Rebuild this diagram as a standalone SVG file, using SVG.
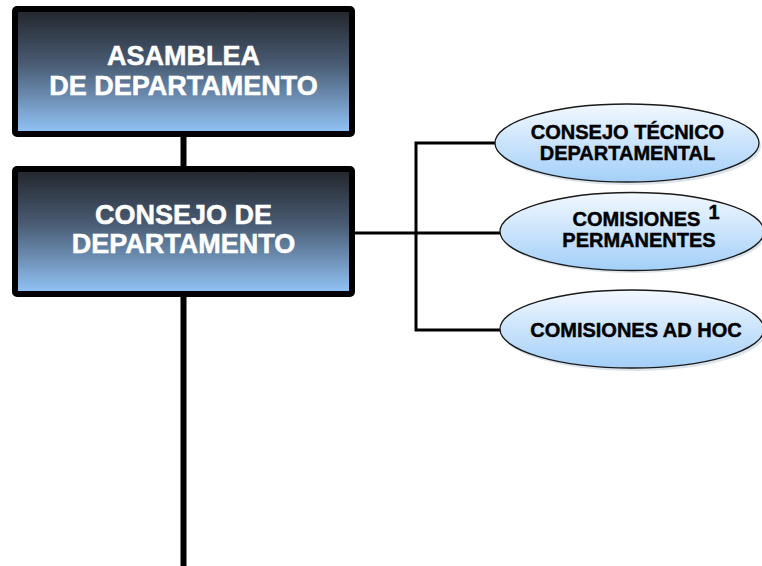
<svg xmlns="http://www.w3.org/2000/svg" width="762" height="566" viewBox="0 0 762 566">
<defs>
<linearGradient id="boxGrad" x1="0" y1="0" x2="0" y2="1">
<stop offset="0" stop-color="#22252b"/>
<stop offset="0.45" stop-color="#4a5d75"/>
<stop offset="1" stop-color="#93c6f9"/>
</linearGradient>
<linearGradient id="ellGrad" x1="0" y1="0" x2="0" y2="1">
<stop offset="0" stop-color="#f2f8ff"/>
<stop offset="1" stop-color="#a3cff8"/>
</linearGradient>
<style>
.box{fill:url(#boxGrad);stroke:#000;stroke-width:6}
.ell{fill:url(#ellGrad);stroke:#1a1a1a;stroke-width:1.3}
.shadow{fill:#b8c8d8;opacity:0.5}
.bt{font-family:"Liberation Sans",Arial,sans-serif;font-weight:bold;font-size:27px;fill:#fff;stroke:#fff;stroke-width:0.5;text-anchor:middle}
.et{font-family:"Liberation Sans",Arial,sans-serif;font-weight:bold;font-size:20px;fill:#000;stroke:#000;stroke-width:0.45;text-anchor:middle}
.thick{stroke:#000;stroke-width:6;fill:none}
.thin{stroke:#000;stroke-width:3;fill:none}
</style>
</defs>
<rect width="762" height="566" fill="#fff"/>
<g id="connectors">
<line class="thick" x1="183.5" y1="136" x2="183.5" y2="168"/>
<line class="thick" x1="183.5" y1="296" x2="183.5" y2="566"/>
<line class="thin" x1="354" y1="233" x2="416" y2="233"/>
<polyline class="thin" points="496,143 416,143 416,330 501,330"/>
<line class="thin" x1="416" y1="233" x2="501" y2="233"/>
</g>
<g id="asamblea">
<rect class="box" x="15" y="9" width="337" height="125" rx="2"/>
<text class="bt" x="183.5" y="65">ASAMBLEA</text>
<text class="bt" x="183.5" y="95">DE DEPARTAMENTO</text>
</g>
<g id="consejo">
<rect class="box" x="15" y="169" width="337" height="125" rx="2"/>
<text class="bt" x="183.5" y="224">CONSEJO DE</text>
<text class="bt" x="183.5" y="253">DEPARTAMENTO</text>
</g>
<g id="consejo-tecnico">
<ellipse class="shadow" cx="629" cy="146" rx="132" ry="39"/>
<ellipse class="ell" cx="627" cy="143" rx="132" ry="39"/>
<text class="et" x="627.5" y="139">CONSEJO TÉCNICO</text>
<text class="et" x="627.5" y="160">DEPARTAMENTAL</text>
</g>
<g id="comisiones-permanentes">
<ellipse class="shadow" cx="634" cy="234" rx="132" ry="39"/>
<ellipse class="ell" cx="632" cy="231.5" rx="132" ry="39"/>
<text class="et" x="636.5" y="226">COMISIONES</text>
<text class="et" x="639" y="247">PERMANENTES</text>
<text class="et" x="714" y="219">1</text>
</g>
<g id="comisiones-adhoc">
<ellipse class="shadow" cx="634" cy="332" rx="132" ry="39"/>
<ellipse class="ell" cx="632" cy="329" rx="132" ry="39"/>
<text class="et" x="636" y="337">COMISIONES AD HOC</text>
</g>
</svg>
